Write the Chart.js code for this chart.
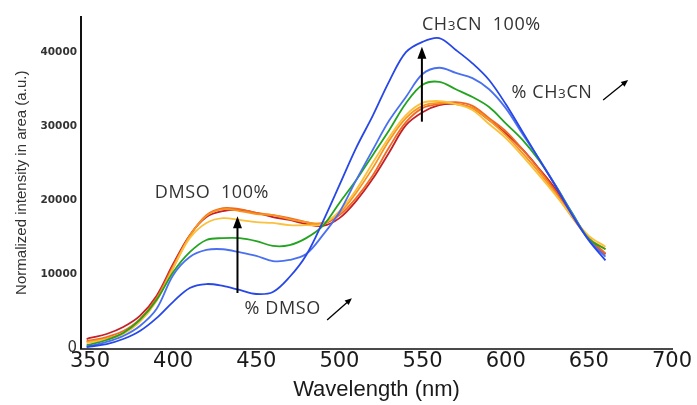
<!DOCTYPE html>
<html>
<head>
<meta charset="utf-8">
<script src="https://cdn.jsdelivr.net/npm/chart.js@4"></script>
<style>
  html, body { margin: 0; padding: 0; background: #fff; }
  #wrap { width: 697px; height: 405px; }
</style>
</head>
<body>
<div id="wrap"><canvas id="c"></canvas></div>
<script>
// emission spectra (nm / normalized intensity)
const wavelengths = [348, 350, 360, 370, 380, 390, 400, 410, 420, 430, 440, 450, 460, 470, 480, 490,
  500, 510, 520, 530, 540, 550, 560, 570, 580, 590, 600, 610, 620, 630, 640, 650, 660];

const blueAcn = [200, 270, 600, 1280, 2360, 4100, 6300, 8170, 8700, 8440, 7900, 7360, 7630, 9650, 12600, 17100,
  22050, 27050, 31400, 36100, 40000, 41400, 41900, 40300, 38500, 36250, 33000, 29300, 25600, 21900, 18000, 14600, 11900];
const blueMid = [270, 340, 880, 1690, 3040, 5330, 9900, 12350, 13300, 13400, 13000, 12500, 11800, 11950, 12750, 15300,
  18400, 22700, 26800, 30800, 33950, 37050, 37900, 37200, 36500, 35000, 32450, 29000, 25600, 22000, 18200, 14650, 12400];
const green = [470, 540, 1150, 2100, 3850, 6550, 10300, 13000, 14650, 14900, 14900, 14500, 13850, 13950, 14900, 16550,
  19650, 22700, 26100, 29500, 33100, 35600, 36000, 35000, 33950, 32600, 30400, 28200, 25400, 22000, 18300, 14800, 13400];
const yellow = [740, 810, 1220, 1960, 3580, 6400, 10850, 14900, 16950, 17600, 17350, 17050, 16950, 16650, 16650, 16800,
  18550, 21400, 25050, 28550, 31500, 33150, 33400, 33000, 32200, 30300, 28400, 26000, 23400, 20700, 17800, 15200, 13750];
const lightOrange = [880, 950, 1350, 2100, 3700, 6550, 10850, 15200, 17900, 18800, 18550, 18150, 18000, 17450, 17050, 16950,
  18300, 21000, 24350, 28100, 31100, 32750, 33150, 33000, 32450, 30850, 28800, 26400, 23800, 20900, 17700, 14900, 13400];
const orange = [1010, 1080, 1550, 2360, 3980, 6800, 11150, 15200, 18000, 18950, 18800, 18300, 18000, 17600, 17050, 16800,
  18000, 20300, 23350, 27200, 30550, 32450, 33000, 33250, 32750, 31100, 29350, 26900, 24200, 21200, 17800, 14900, 12850];
const red = [1280, 1420, 1960, 2900, 4400, 7100, 11400, 15300, 17750, 18550, 18700, 18300, 17750, 17350, 16800, 16550,
  17600, 19900, 22900, 26500, 30150, 31900, 32850, 33000, 32450, 30850, 29050, 26900, 24300, 21500, 18000, 14900, 12700];

const xTicks = [350, 400, 450, 500, 550, 600, 650, 700];
const yTicks = [0, 10000, 20000, 30000, 40000];

// annotation anchors in data units: [x1, y1, x2, y2]
const dmsoArrow = [438.7, 7490, 438.7, 17850];
const acnArrow = [549.6, 30620, 549.6, 40740];
const dmsoTrend = [492.6, 3850, 507.5, 6800];
const acnTrend = [658.6, 33550, 673.6, 36250];

const series = [
  { label: 'CH3CN 100%', values: blueAcn, color: '#2747e6' },
  { label: 'blue', values: blueMid, color: '#4a70ef' },
  { label: 'green', values: green, color: '#23a421' },
  { label: 'yellow', values: yellow, color: '#fbc03c' },
  { label: 'light orange', values: lightOrange, color: '#f7951f' },
  { label: 'orange', values: orange, color: '#f06a22' },
  { label: 'DMSO 100%', values: red, color: '#c4202a' }
];

function arrow(ctx, x1, y1, x2, y2, w, len, half) {
  const a = Math.atan2(y2 - y1, x2 - x1);
  ctx.lineWidth = w;
  ctx.beginPath();
  ctx.moveTo(x1, y1);
  ctx.lineTo(x2 - Math.cos(a) * len * 0.6, y2 - Math.sin(a) * len * 0.6);
  ctx.stroke();
  ctx.beginPath();
  ctx.moveTo(x2, y2);
  ctx.lineTo(x2 - Math.cos(a) * len - Math.sin(a) * half, y2 - Math.sin(a) * len + Math.cos(a) * half);
  ctx.lineTo(x2 - Math.cos(a) * len + Math.sin(a) * half, y2 - Math.sin(a) * len - Math.cos(a) * half);
  ctx.closePath();
  ctx.fill();
}

// text pieces: [string, scale]; the "3" of CH3CN is set smaller
function label(ctx, parts, x, y, size) {
  let cx = x;
  parts.forEach(p => {
    ctx.font = (size * p[1]) + 'px "Open Sans"';
    ctx.fillText(p[0], cx, y);
    cx += ctx.measureText(p[0]).width;
  });
}

const notes = {
  id: 'notes',
  afterDatasetsDraw(chart) {
    const { ctx } = chart;
    const x = chart.scales.x, y = chart.scales.y;
    const px = v => x.getPixelForValue(v);
    const py = v => y.getPixelForValue(v);
    ctx.save();
    ctx.fillStyle = '#000';
    ctx.strokeStyle = '#000';
    arrow(ctx, px(dmsoArrow[0]), py(dmsoArrow[1]), px(dmsoArrow[2]), py(dmsoArrow[3]), 2, 12, 4.5);
    arrow(ctx, px(acnArrow[0]), py(acnArrow[1]), px(acnArrow[2]), py(acnArrow[3]), 2, 12, 4.5);
    arrow(ctx, px(dmsoTrend[0]), py(dmsoTrend[1]), px(dmsoTrend[2]), py(dmsoTrend[3]), 1.3, 7, 3);
    arrow(ctx, px(acnTrend[0]), py(acnTrend[1]), px(acnTrend[2]), py(acnTrend[3]), 1.3, 7, 3);

    ctx.fillStyle = '#333';
    ctx.textBaseline = 'alphabetic';
    ctx.letterSpacing = '0.6px';
    label(ctx, [['DMSO  100%', 1]], px(389), py(21260) + 6.5, 18);
    label(ctx, [['% DMSO', 1]], px(442.9), py(5470) + 6.5, 18);
    label(ctx, [['CH', 1], ['3', 0.75], ['CN  100%', 1]], px(549.6), py(43940) + 6.5, 18);
    label(ctx, [['% CH', 1], ['3', 0.75], ['CN', 1]], px(603.5), py(34760) + 6.5, 18);
    ctx.restore();
  }
};

new Chart(document.getElementById('c'), {
  type: 'line',
  data: {
    datasets: series.map(s => ({
      label: s.label,
      data: wavelengths.map((w, i) => ({ x: w, y: s.values[i] })),
      borderColor: s.color,
      borderWidth: 1.8,
      pointRadius: 0,
      tension: 0.35,
      fill: false
    }))
  },
  options: {
    responsive: true,
    maintainAspectRatio: false,
    animation: false,
    layout: { padding: { left: 0, right: 25, top: 17, bottom: 0 } },
    plugins: { legend: { display: false }, tooltip: { enabled: false } },
    scales: {
      x: {
        type: 'linear',
        min: 344.6,
        max: 700,
        afterBuildTicks: s => { s.ticks = xTicks.map(v => ({ value: v })); },
        afterFit: s => { s.height = 56.5; },
        grid: { display: false, drawTicks: false },
        border: { display: true, color: '#4a4a4a', width: 2 },
        ticks: {
          font: { family: 'DejaVu Sans', size: 21 },
          color: '#1a1a1a',
          padding: 0,
          maxRotation: 0,
          autoSkip: false,
          callback: v => String(v)
        },
        title: {
          display: true,
          text: 'Wavelength (nm)',
          font: { family: 'Liberation Sans', size: 22 },
          color: '#1a1a1a',
          padding: { top: 0, bottom: 2 }
        }
      },
      y: {
        type: 'linear',
        min: 0,
        max: 44750,
        afterBuildTicks: s => { s.ticks = yTicks.map(v => ({ value: v })); },
        afterFit: s => { s.width = 81; },
        grid: { display: false, drawTicks: false },
        border: { display: true, color: '#111', width: 2 },
        ticks: {
          font: c => (c.tick && c.tick.value === 0)
            ? { family: 'DejaVu Sans', size: 15 }
            : { family: 'DejaVu Sans', size: 10.5, weight: 'bold' },
          color: '#333',
          padding: 4,
          callback: v => String(v)
        },
        title: {
          display: true,
          text: 'Normalized intensity in area (a.u.)',
          font: { family: 'Liberation Sans', size: 15 },
          color: '#333',
          padding: { top: 13, bottom: 0 }
        }
      }
    }
  },
  plugins: [notes]
});
</script>
</body>
</html>
